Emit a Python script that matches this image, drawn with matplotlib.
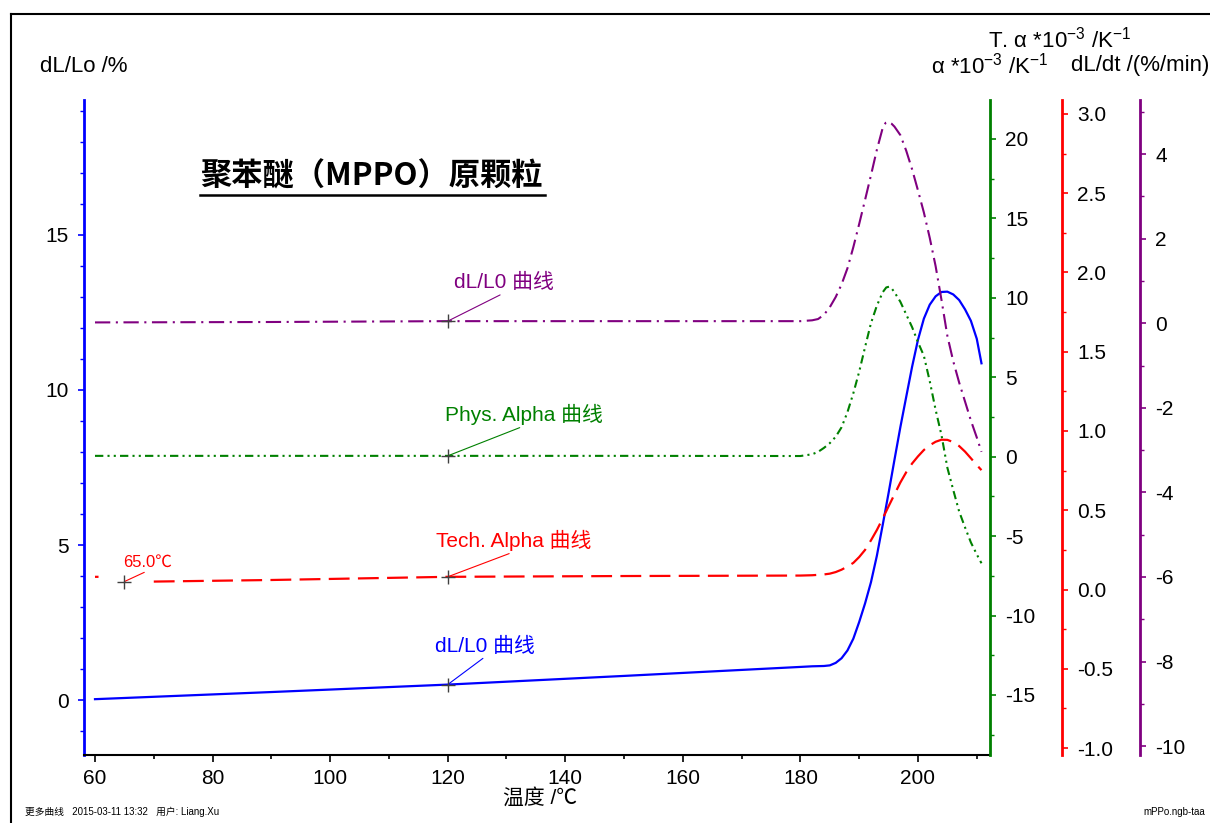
import numpy as np
import matplotlib
matplotlib.use("Agg")
import matplotlib.pyplot as plt
from matplotlib.lines import Line2D
from matplotlib.ticker import MultipleLocator, FormatStrFormatter

plt.rcParams['font.family'] = ['Liberation Sans', 'Noto Sans CJK SC', 'DejaVu Sans']
plt.rcParams['axes.unicode_minus'] = False
plt.rcParams['mathtext.fontset'] = 'custom'
plt.rcParams['mathtext.rm'] = 'Liberation Sans'
plt.rcParams['mathtext.it'] = 'Liberation Sans:italic'
plt.rcParams['lines.scale_dashes'] = False

# dL/L0 (%), left axis
t_dl = [60, 90, 120, 150, 180, 182, 184, 185, 186, 187, 188, 189, 190, 191, 192, 193, 194,
        195, 196, 197, 198, 199, 200, 201, 202, 203, 204, 205, 206, 207, 208, 209, 210, 210.8]
dl = [0.03, 0.26, 0.50, 0.78, 1.07, 1.09, 1.10, 1.12, 1.20, 1.35, 1.60, 1.98, 2.52, 3.12,
      3.80, 4.65, 5.65, 6.68, 7.75, 8.80, 9.78, 10.75, 11.62, 12.30, 12.75, 13.02, 13.16,
      13.17, 13.08, 12.90, 12.60, 12.23, 11.65, 10.86]

# Tech. Alpha (red axis)
t_ta = [60, 60.6, np.nan, 70, 90, 120, 150, 180, 182, 184, 185, 186, 187, 188, 189, 190,
        191, 192, 193, 194, 195, 196, 197, 198, 199, 200, 201, 202, 203, 204, 205, 206, 207,
        208, 209, 210, 210.8]
ta = [0.08, 0.08, np.nan, 0.05, 0.06, 0.08, 0.085, 0.088, 0.09, 0.095, 0.100, 0.110, 0.125,
      0.145, 0.168, 0.205, 0.250, 0.310, 0.375, 0.448, 0.525, 0.600, 0.675, 0.740, 0.795,
      0.840, 0.880, 0.910, 0.932, 0.945, 0.944, 0.930, 0.905, 0.870, 0.828, 0.785, 0.753]

# dL/dt (purple axis)
t_dt = [60, 90, 120, 150, 180, 182, 183, 184, 185, 186, 187, 188, 189, 190, 191, 192, 193,
        194, 194.5, 195, 195.5, 196, 197, 198, 199, 200, 201, 202, 203, 204, 205, 206, 207,
        208, 209, 210, 210.8]
dt = [0.02, 0.03, 0.05, 0.05, 0.05, 0.07, 0.10, 0.20, 0.38, 0.62, 0.92, 1.30, 1.80, 2.35,
      2.92, 3.50, 4.10, 4.62, 4.74, 4.76, 4.72, 4.65, 4.45, 4.08, 3.64, 3.14, 2.62, 2.02,
      1.35, 0.55, -0.30, -0.90, -1.40, -1.85, -2.30, -2.70, -3.04]

# Phys. Alpha (green axis)
t_pa = [60, 90, 120, 150, 180, 182, 183, 184, 185, 186, 187, 188, 189, 190, 191, 192, 193,
        194, 194.6, 195.1, 195.6, 196, 197, 198, 199, 200, 201, 202, 203, 204, 205, 206, 207,
        208, 209, 210, 210.8]
pa = [0.05, 0.05, 0.05, 0.05, 0.04, 0.15, 0.30, 0.55, 0.85, 1.25, 1.85, 2.80, 3.99, 5.35,
      6.90, 8.40, 9.50, 10.35, 10.65, 10.70, 10.55, 10.35, 9.75, 8.95, 8.15, 7.20, 6.35,
      4.75, 2.95, 1.35, -0.70, -2.10, -3.45, -4.45, -5.40, -6.15, -6.71]

W, H = 1210, 823
BLUE, RED, GREEN, PURPLE = '#0000ff', '#ff0000', '#008000', '#800080'
CJK = ['Liberation Sans', 'Noto Sans CJK SC']

fig = plt.figure(figsize=(W / 100, H / 100), dpi=100)
ax = fig.add_axes([84 / W, 1 - 755 / H, 906 / W, 655 / H])
ax2 = ax.twinx()
ax3 = ax.twinx()
ax4 = ax.twinx()
ax3.spines['right'].set_position(('axes', 1.0795))
ax4.spines['right'].set_position(('axes', 1.1656))

ax.set_xlim(58.13, 212.25)
ax.set_ylim(-1.77, 19.35)
ax2.set_ylim(-18.78, 22.45)
ax3.set_ylim(-1.044, 3.088)
ax4.set_ylim(-10.21, 5.28)

ax.plot(t_dl, dl, color=BLUE, lw=1.6, zorder=3)
ax3.plot(t_ta, ta, color=RED, lw=1.6, dashes=(15, 6))
ax4.plot(t_dt, dt, color=PURPLE, lw=1.5, dashes=(11, 4, 1.5, 4))
ax2.plot(t_pa, pa, color=GREEN, lw=1.5, dashes=(6, 3, 1.5, 3, 1.5, 3))

for a in (ax, ax2, ax3, ax4):
    a.spines['top'].set_visible(False)
for a in (ax2, ax3, ax4):
    a.spines['left'].set_visible(False)
    a.spines['bottom'].set_visible(False)
ax.spines['right'].set_visible(False)
ax.spines['left'].set_color(BLUE)
ax.spines['left'].set_linewidth(2)
ax.spines['bottom'].set_linewidth(1.5)
ax2.spines['right'].set_color(GREEN)
ax3.spines['right'].set_color(RED)
ax4.spines['right'].set_color(PURPLE)
for a in (ax2, ax3, ax4):
    a.spines['right'].set_linewidth(2)

ax.xaxis.set_major_locator(MultipleLocator(20))
ax.xaxis.set_minor_locator(MultipleLocator(10))
ax.yaxis.set_major_locator(MultipleLocator(5))
ax.yaxis.set_minor_locator(MultipleLocator(1))
ax2.yaxis.set_major_locator(MultipleLocator(5))
ax2.yaxis.set_minor_locator(MultipleLocator(2.5))
ax3.yaxis.set_major_locator(MultipleLocator(0.5))
ax3.yaxis.set_minor_locator(MultipleLocator(0.25))
ax3.yaxis.set_major_formatter(FormatStrFormatter('%.1f'))
ax4.yaxis.set_major_locator(MultipleLocator(2))
ax4.yaxis.set_minor_locator(MultipleLocator(1))

ax.tick_params(axis='x', which='both', direction='out', labelsize=15, pad=5)
ax.tick_params(axis='x', which='major', length=5, width=1.2)
ax.tick_params(axis='x', which='minor', length=3, width=1.2)
for a, c in ((ax, BLUE), (ax2, GREEN), (ax3, RED), (ax4, PURPLE)):
    a.tick_params(axis='y', which='both', direction='out', colors=c, labelcolor='black',
                  labelsize=15, pad=7)
    a.tick_params(axis='y', which='major', length=4, width=1.2)
    a.tick_params(axis='y', which='minor', length=3, width=1.0)

# markers and curve annotations
marks = [
    (ax4, 120, 0.05, PURPLE, 'dL/L0 曲线', 6, 29),
    (ax2, 120, 0.05, GREEN, 'Phys. Alpha 曲线', -3, 31),
    (ax3, 120, 0.08, RED, 'Tech. Alpha 曲线', -12, 26),
    (ax, 120, 0.50, BLUE, 'dL/L0 曲线', -13, 29),
]
for a, x, y, c, s, dx, dy in marks:
    a.plot([x], [y], marker='+', ms=10, mew=1, color='#404040', zorder=5)
    a.annotate(s, xy=(x, y), xytext=(dx, dy), textcoords='offset pixels',
               ha='left', va='bottom', color=c, fontsize=15, family=CJK,
               arrowprops=dict(arrowstyle='-', color=c, lw=0.8, shrinkA=0, shrinkB=0,
                               relpos=(0.52, 0)))

ax3.plot([65], [0.05], marker='+', ms=10, mew=1, color='#404040', zorder=5)
ax3.annotate('65.0℃', xy=(65, 0.05), xytext=(-1, 12), textcoords='offset pixels',
             ha='left', va='bottom', color=RED, fontsize=12, family=CJK,
             arrowprops=dict(arrowstyle='-', color=RED, lw=0.8, shrinkA=0, shrinkB=0,
                             relpos=(0.55, 0)))

# axis titles
fig.text(40 / W, 1 - 66 / H, 'dL/Lo /%', ha='left', va='center', fontsize=16)
fig.text(990 / W, 1 - 66 / H, r'α *10$^{-3}$ /K$^{-1}$', ha='center', va='center', fontsize=16)
fig.text(1060 / W, 1 - 40 / H, r'T. α *10$^{-3}$ /K$^{-1}$', ha='center', va='center', fontsize=16)
fig.text(1140 / W, 1 - 66 / H, 'dL/dt /(%/min)', ha='center', va='center', fontsize=16)
fig.text(540 / W, 1 - 798 / H, '温度 /℃', ha='center', va='center', fontsize=15, family=CJK)

# chart title, underlined
fig.text(200 / W, 1 - 176 / H, '聚苯醚（MPPO）原颗粒', ha='left', va='center', fontsize=22.5,
         fontweight='bold', fontstyle='italic', family='Noto Sans CJK SC')
fig.add_artist(Line2D([200 / W, 545 / W], [1 - 195 / H, 1 - 195 / H], color='black', lw=1.8))

# footer
fig.text(25 / W, 1 - 812 / H, '更多曲线   2015-03-11 13:32   用户: Liang.Xu', ha='left',
         va='center', fontsize=7, family=CJK)
fig.text(1205 / W, 1 - 812 / H, 'mPPo.ngb-taa', ha='right', va='center', fontsize=7)

# outer frame
fig.add_artist(Line2D([11 / W, 1], [1 - 14 / H, 1 - 14 / H], color='black', lw=1.5))
fig.add_artist(Line2D([11 / W, 11 / W], [0, 1 - 14 / H], color='black', lw=1.5))

fig.savefig('out.png', dpi=100)
